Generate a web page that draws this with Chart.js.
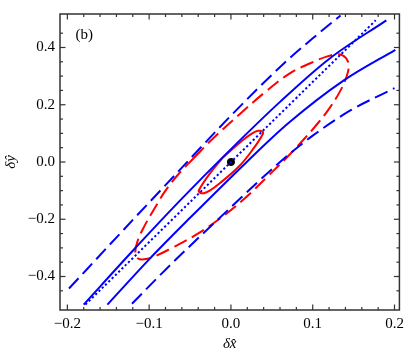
<!DOCTYPE html>
<html>
<head>
<meta charset="utf-8">
<script src="https://cdn.jsdelivr.net/npm/chart.js@4.4.1/dist/chart.umd.min.js"></script>
<style>
    html, body { margin: 0; padding: 0; background: #fff; }
    #wrap { width: 409px; height: 354px; }
</style>
</head>
<body>
<div id="wrap"><canvas id="chart"></canvas></div>
<script>
// tick positions
const xMajorTicks = [-0.2, -0.1, 0, 0.1, 0.2];
const yMajorTicks = [-0.4, -0.2, 0, 0.2, 0.4];
const xMinorTicks = [-0.2, -0.18, -0.16, -0.14, -0.12, -0.1, -0.08, -0.06, -0.04, -0.02, 0,
    0.02, 0.04, 0.06, 0.08, 0.1, 0.12, 0.14, 0.16, 0.18, 0.2];
const yMinorTicks = [-0.45, -0.4, -0.35, -0.3, -0.25, -0.2, -0.15, -0.1, -0.05, 0,
    0.05, 0.1, 0.15, 0.2, 0.25, 0.3, 0.35, 0.4, 0.45];

// curves, [x, y]
const dottedLine = [[-0.178, -0.498], [0.177, 0.495]];
const upperSolid = [[-0.180, -0.498], [-0.120, -0.310], [-0.060, -0.128], [0.000, 0.045],
    [0.060, 0.210], [0.120, 0.360], [0.190, 0.495]];
const lowerSolid = [[-0.151, -0.498], [-0.100, -0.340], [-0.050, -0.195], [0.020, 0.002],
    [0.070, 0.135], [0.138, 0.285], [0.201, 0.392]];
const upperDashed = [[-0.198, -0.442], [-0.130, -0.233], [-0.065, -0.035], [0.000, 0.162],
    [0.065, 0.345], [0.100, 0.432], [0.134, 0.512]];
const lowerDashed = [[-0.121, -0.495], [-0.076, -0.365], [0.000, -0.158], [0.060, 0.000],
    [0.100, 0.092], [0.146, 0.180], [0.200, 0.258]];
const bigEllipse = [[-0.045, 0.015], [-0.021, 0.085], [0.010, 0.165], [0.040, 0.240],
    [0.071, 0.308], [0.097, 0.345], [0.117, 0.368], [0.131, 0.376], [0.140, 0.365],
    [0.144, 0.338], [0.141, 0.295], [0.133, 0.245], [0.121, 0.190], [0.107, 0.138],
    [0.090, 0.082], [0.068, 0.015], [0.045, -0.050], [0.015, -0.132], [-0.015, -0.201],
    [-0.045, -0.258], [-0.072, -0.300], [-0.092, -0.328], [-0.106, -0.340], [-0.114, -0.336],
    [-0.117, -0.315], [-0.114, -0.275], [-0.106, -0.225], [-0.094, -0.165], [-0.080, -0.100],
    [-0.064, -0.042], [-0.045, 0.015]];
const smallEllipse = [[-0.010, 0.015], [0.014, 0.075], [0.026, 0.100], [0.033, 0.109],
    [0.038, 0.107], [0.039, 0.098], [0.027, 0.045], [0.010, -0.015], [-0.014, -0.075],
    [-0.026, -0.100], [-0.033, -0.109], [-0.038, -0.107], [-0.039, -0.098], [-0.027, -0.045],
    [-0.010, 0.015]];
const centerPoint = [[0, 0]];

const BLUE = '#0000ff';
const RED = '#ff0000';
const SERIF = '"Liberation Serif", "Times New Roman", serif';

const pts = (arr) => arr.map(([x, y]) => ({ x, y }));

function lineSet(data, color, dash, mode) {
    return {
        data: pts(data),
        showLine: true,
        borderColor: color,
        borderWidth: 2,
        borderDash: dash,
        pointRadius: 0,
        fill: false,
        cubicInterpolationMode: mode === 'monotone' ? 'monotone' : 'default',
        tension: 0.4,
    };
}

const fmt = (v) => (v < -1e-9 ? '\u2212' : '') + Math.abs(v).toFixed(1);

const framePlugin = {
    id: 'frame',
    afterDatasetsDraw(chart) {
        const { ctx, chartArea: a, scales: { x, y } } = chart;
        ctx.save();
        ctx.strokeStyle = '#333';
        ctx.lineWidth = 1.5;
        ctx.strokeRect(a.left, a.top, a.right - a.left, a.bottom - a.top);

        const seg = (x1, y1, x2, y2) => {
            ctx.beginPath();
            ctx.moveTo(x1, y1);
            ctx.lineTo(x2, y2);
            ctx.stroke();
        };
        ctx.lineWidth = 1.2;
        xMinorTicks.forEach((v) => {
            const p = x.getPixelForValue(v);
            const len = xMajorTicks.some((m) => Math.abs(m - v) < 1e-9) ? 5.5 : 3;
            seg(p, a.bottom, p, a.bottom - len);
            seg(p, a.top, p, a.top + len);
        });
        yMinorTicks.forEach((v) => {
            const p = y.getPixelForValue(v);
            const len = yMajorTicks.some((m) => Math.abs(m - v) < 1e-9) ? 5.5 : 3;
            seg(a.left, p, a.left + len, p);
            seg(a.right, p, a.right - len, p);
        });

        ctx.fillStyle = '#000';
        ctx.font = '15px ' + SERIF;
        ctx.textBaseline = 'alphabetic';
        ctx.fillText('(b)', a.left + 15.5, a.top + 25);
        ctx.restore();
    },
};

new Chart(document.getElementById('chart'), {
    type: 'scatter',
    data: {
        datasets: [
            lineSet(dottedLine, BLUE, [2.2, 2.4]),
            lineSet(upperSolid, BLUE, [], 'monotone'),
            lineSet(lowerSolid, BLUE, [], 'monotone'),
            lineSet(upperDashed, BLUE, [14, 6], 'monotone'),
            lineSet(lowerDashed, BLUE, [14, 6], 'monotone'),
            lineSet(bigEllipse, RED, [14, 6]),
            lineSet(smallEllipse, RED, []),
            {
                data: pts(centerPoint),
                pointRadius: 3.6,
                pointBackgroundColor: '#000',
                pointBorderColor: '#000',
                showLine: false,
            },
        ],
    },
    options: {
        responsive: true,
        maintainAspectRatio: false,
        animation: false,
        layout: { padding: { top: 2, right: 8, left: 0, bottom: 0 } },
        plugins: {
            legend: { display: false },
            tooltip: { enabled: false },
        },
        scales: {
            x: {
                type: 'linear',
                min: -0.209,
                max: 0.206,
                afterBuildTicks: (s) => { s.ticks = xMajorTicks.map((v) => ({ value: v })); },
                afterFit: (s) => { s.height = 44; },
                grid: { display: false, drawTicks: false },
                border: { display: false },
                ticks: {
                    color: '#000',
                    padding: 5,
                    maxRotation: 0,
                    font: { family: SERIF, size: 15 },
                    callback: fmt,
                },
                title: {
                    display: true,
                    text: '\u03B4x\u0302',
                    color: '#000',
                    padding: { top: 0, bottom: 1 },
                    font: { family: SERIF, size: 15, style: 'italic' },
                },
            },
            y: {
                type: 'linear',
                min: -0.517,
                max: 0.517,
                afterBuildTicks: (s) => { s.ticks = yMajorTicks.map((v) => ({ value: v })); },
                afterFit: (s) => { s.width = 60; },
                grid: { display: false, drawTicks: false },
                border: { display: false },
                ticks: {
                    color: '#000',
                    padding: 5,
                    font: { family: SERIF, size: 15 },
                    callback: fmt,
                },
                title: {
                    display: true,
                    text: '\u03B4y\u0302',
                    color: '#000',
                    padding: { top: 2, bottom: 0 },
                    font: { family: SERIF, size: 15, style: 'italic' },
                },
            },
        },
    },
    plugins: [framePlugin],
});
</script>
</body>
</html>
